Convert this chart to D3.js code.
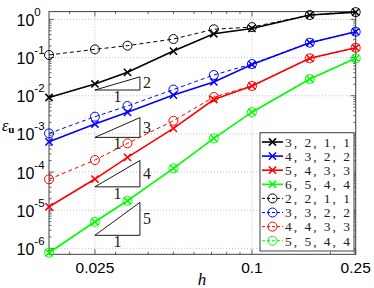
<!DOCTYPE html>
<html><head><meta charset="utf-8">
<script src="https://cdn.jsdelivr.net/npm/d3@7"></script>
<style>body{margin:0;background:#fff}svg{display:block}</style>
</head><body>
<script>
// ---- data ----
const hValues = [0.01667, 0.025, 0.03333, 0.05, 0.07143, 0.1, 0.1667, 0.25];
const seriesNames = ["3, 2, 1, 1", "4, 3, 2, 2", "5, 4, 3, 3", "6, 5, 4, 4",
                     "2, 2, 1, 1", "3, 3, 2, 2", "4, 4, 3, 3", "5, 5, 4, 4"];
const err_3211 = [9.0e-3, 2.03e-2, 4.1e-2, 0.148, 0.42, 0.58, 1.30, 1.55];
const err_4322 = [6.2e-4, 1.81e-3, 3.67e-3, 1.04e-2, 2.29e-2, 6.57e-2, 0.245, 0.476];
const err_5433 = [1.23e-5, 6.56e-5, 2.43e-4, 1.40e-3, 7.94e-3, 1.80e-2, 9.55e-2, 0.181];
const err_6544 = [7.7e-7, 4.98e-6, 1.77e-5, 1.25e-4, 7.64e-4, 3.7e-3, 2.74e-2, 9.55e-2];
const err_2211 = [0.117, 0.164, 0.205, 0.306, 0.55, 0.63, 1.30, 1.55];
const err_3322 = [1.03e-3, 2.82e-3, 5.37e-3, 1.45e-2, 3.49e-2, 6.78e-2, 0.245, 0.476];
const err_4433 = [6.45e-5, 2.06e-4, 5.65e-4, 2.21e-3, 9.25e-3, 1.80e-2, 9.55e-2, 0.181];
const err_5544 = [7.7e-7, 4.98e-6, 1.77e-5, 1.25e-4, 7.64e-4, 3.7e-3, 2.74e-2, 9.55e-2];
const seriesValues = [err_3211, err_4322, err_5433, err_6544, err_2211, err_3322, err_4433, err_5544];
const seriesColors = ["#000000", "#0000ff", "#ff0000", "#00ff00", "#000000", "#0000ff", "#ff0000", "#00ff00"];
const seriesDashed = [false, false, false, false, true, true, true, true];
const xTickValues = [0.025, 0.1, 0.25];
const xTickLabels = ["0.025", "0.1", "0.25"];
const yTickExponents = [0, -1, -2, -3, -4, -5, -6];
const slopes = [2, 3, 4, 5];
const triangleBase = [0.0141, 8.1e-4, 4.1e-5, 2.2e-6];
const triangleH = [0.025, 0.0372];

// ---- layout ----
const W = 374, H = 288;
const L = 49, R = 355.7, T = 11.6, B = 254.3;
const serif = "'Liberation Serif', 'DejaVu Serif', 'Times New Roman', serif";
const sans = "'Liberation Sans', Arial, sans-serif";
const svg = d3.select("body").append("svg").attr("width", W).attr("height", H);
const x = d3.scaleLog().domain([1/60, 0.25]).range([L, R]);
const y = d3.scaleLog().domain([7e-7, 1.6]).range([B, T]);

// grid
const g = svg.append("g");
xTickValues.forEach(v => {
  g.append("line").attr("x1", x(v)).attr("x2", x(v)).attr("y1", T).attr("y2", B)
   .attr("stroke", "#b4b4b4").attr("stroke-width", 0.8).attr("stroke-dasharray", "1,2");
});
yTickExponents.forEach(e => {
  const v = Math.pow(10, e);
  g.append("line").attr("x1", L).attr("x2", R).attr("y1", y(v)).attr("y2", y(v))
   .attr("stroke", "#b4b4b4").attr("stroke-width", 0.8).attr("stroke-dasharray", "1,2");
});

// minor / major ticks on all sides (inward)
const axisColor = "#404040";
const yMinor = [];
for (let e = -7; e <= 0; e++) for (let k = 2; k <= 9; k++) {
  const v = k * Math.pow(10, e);
  if (v >= 7e-7 && v <= 1.6) yMinor.push(v);
}
const xMinor = [0.02, 0.03, 0.04, 0.05, 0.06, 0.07, 0.08, 0.09, 0.2];
const tk = svg.append("g").attr("stroke", axisColor).attr("stroke-width", 0.8);
yMinor.forEach(v => {
  tk.append("line").attr("x1", L).attr("x2", L + 2.5).attr("y1", y(v)).attr("y2", y(v));
  tk.append("line").attr("x1", R).attr("x2", R - 2.5).attr("y1", y(v)).attr("y2", y(v));
});
yTickExponents.forEach(e => {
  const v = Math.pow(10, e);
  tk.append("line").attr("x1", L).attr("x2", L + 5).attr("y1", y(v)).attr("y2", y(v));
  tk.append("line").attr("x1", R).attr("x2", R - 5).attr("y1", y(v)).attr("y2", y(v));
});
xMinor.forEach(v => {
  tk.append("line").attr("x1", x(v)).attr("x2", x(v)).attr("y1", B).attr("y2", B - 2.5);
  tk.append("line").attr("x1", x(v)).attr("x2", x(v)).attr("y1", T).attr("y2", T + 2.5);
});
xTickValues.forEach(v => {
  tk.append("line").attr("x1", x(v)).attr("x2", x(v)).attr("y1", B).attr("y2", B - 5);
  tk.append("line").attr("x1", x(v)).attr("x2", x(v)).attr("y1", T).attr("y2", T + 5);
});
svg.append("rect").attr("x", L).attr("y", T).attr("width", R - L).attr("height", B - T)
  .attr("fill", "none").attr("stroke", axisColor).attr("stroke-width", 1);

// tick labels
xTickValues.forEach((v, i) => {
  svg.append("text").attr("x", x(v)).attr("y", 272.5).attr("text-anchor", "middle")
    .attr("font-family", sans).attr("font-size", 15.5)
    .text(xTickLabels[i]);
});
yTickExponents.forEach(e => {
  const yy = y(Math.pow(10, e));
  const t = svg.append("text").attr("x", 16.5).attr("y", yy + 6.5)
    .attr("font-family", sans).attr("font-size", 16);
  t.append("tspan").text("10");
  t.append("tspan").attr("dy", -10).attr("font-size", 11.5).text(e === 0 ? "0" : "-" + (-e));
});

// axis labels
svg.append("text").attr("x", 202).attr("y", 285).attr("text-anchor", "middle")
  .attr("font-family", serif).attr("font-style", "italic").attr("font-size", 17).text("h");
const yl = svg.append("text").attr("x", 2).attr("y", 131)
  .attr("font-family", serif).attr("font-size", 16);
yl.append("tspan").attr("font-style", "italic").text("ε");
yl.append("tspan").attr("dy", 2).attr("font-size", 11).attr("font-weight", "bold").text("u");

// slope triangles
slopes.forEach((s, i) => {
  const x0 = x(triangleH[0]), x1 = x(triangleH[1]);
  const yb = y(triangleBase[i]);
  const yt = y(triangleBase[i] * Math.pow(triangleH[1] / triangleH[0], s));
  svg.append("path").attr("d", `M${x0},${yb}L${x1},${yt}L${x1},${yb}Z`)
    .attr("fill", "none").attr("stroke", "#000").attr("stroke-width", 0.9);
  svg.append("text").attr("x", x1 + 3).attr("y", (yb + yt) / 2 + 5)
    .attr("font-family", serif).attr("font-size", 16).attr("fill", "#222").text(s);
  svg.append("text").attr("x", (x0 + x1) / 2).attr("y", yb + 12).attr("text-anchor", "middle")
    .attr("font-family", serif).attr("font-size", 16).attr("fill", "#222").text("1");
});

// series
function drawMarker(sel, cx, cy, color, dashed) {
  if (dashed) {
    sel.append("circle").attr("cx", cx).attr("cy", cy).attr("r", 4.5)
      .attr("fill", "none").attr("stroke", color).attr("stroke-width", 1);
  } else {
    const d = 3.6;
    sel.append("path").attr("d", `M${cx-d},${cy-d}L${cx+d},${cy+d}M${cx-d},${cy+d}L${cx+d},${cy-d}`)
      .attr("stroke", color).attr("stroke-width", 1.5).attr("fill", "none");
  }
}
const line = d3.line().x(d => x(d[0])).y(d => y(d[1]));
seriesValues.forEach((vals, i) => {
  const pts = hValues.map((h, j) => [h, vals[j]]);
  const sg = svg.append("g");
  sg.append("path").attr("d", line(pts)).attr("fill", "none")
    .attr("stroke", seriesColors[i]).attr("stroke-width", seriesDashed[i] ? 1 : 1.6)
    .attr("stroke-dasharray", seriesDashed[i] ? "4,3" : null);
  pts.forEach(p => drawMarker(sg, x(p[0]), y(p[1]), seriesColors[i], seriesDashed[i]));
});

// legend
const lg = svg.append("g");
lg.append("rect").attr("x", 260).attr("y", 132.7).attr("width", 94).attr("height", 118.3)
  .attr("fill", "#fff").attr("stroke", axisColor).attr("stroke-width", 1);
seriesNames.forEach((name, i) => {
  const cy = 142 + i * 14.1;
  lg.append("line").attr("x1", 262).attr("x2", 283).attr("y1", cy).attr("y2", cy)
    .attr("stroke", seriesColors[i]).attr("stroke-width", seriesDashed[i] ? 1 : 1.6)
    .attr("stroke-dasharray", seriesDashed[i] ? "3,2" : null);
  drawMarker(lg, 272.5, cy, seriesColors[i], seriesDashed[i]);
  lg.append("text").attr("x", 285).attr("y", cy + 4.8).attr("textLength", 65).attr("lengthAdjust", "spacing")
    .attr("font-family", serif).attr("font-size", 13.5).attr("fill", "#222").text(name);
});
</script>
</body></html>
